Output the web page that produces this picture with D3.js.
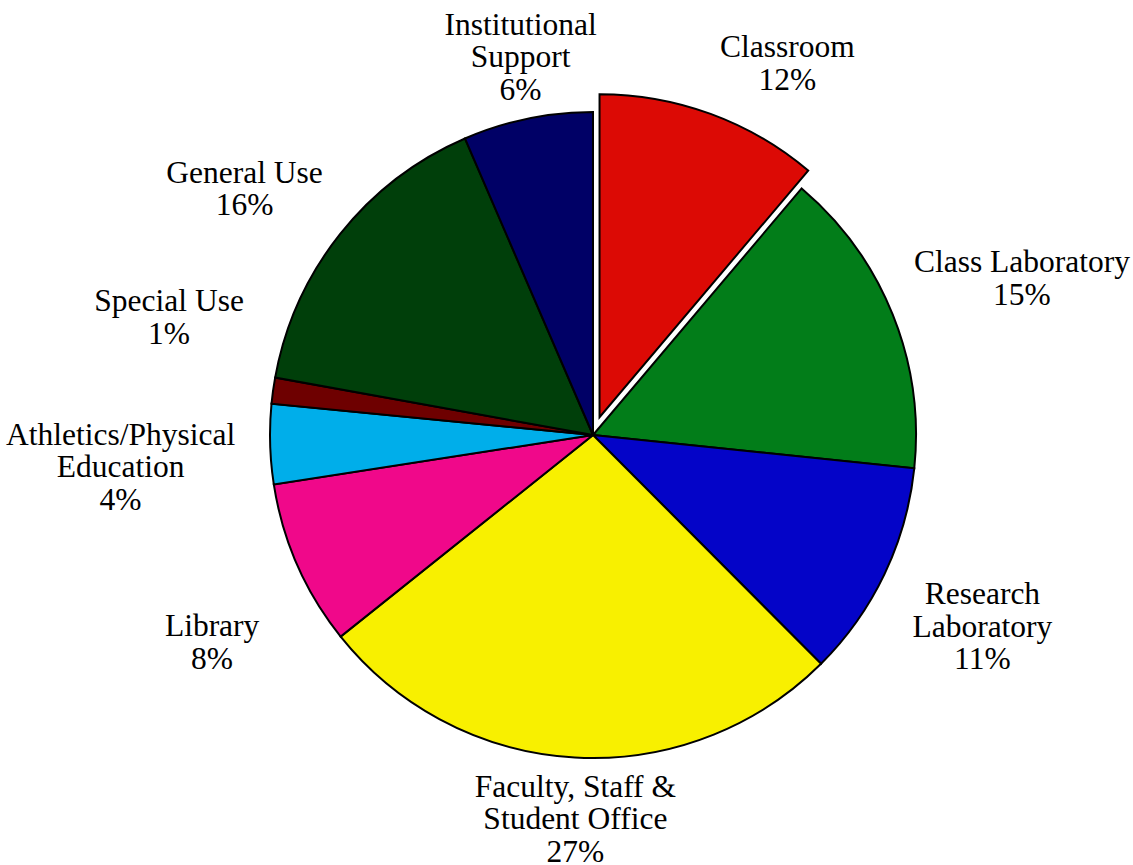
<!DOCTYPE html>
<html>
<head>
<meta charset="utf-8">
<script src="https://d3js.org/d3.v7.min.js"></script>
<style>
  html, body { margin: 0; padding: 0; background: #ffffff; }
  svg { display: block; }
  .lbl text { font-family: "Liberation Serif", "Times New Roman", Times, serif; }
</style>
</head>
<body>
<svg id="chart" width="1133" height="865"></svg>
<script>
// ---- data ----
const categories = [
  "Classroom", "Class Laboratory", "Research Laboratory",
  "Faculty, Staff & Student Office", "Library", "Athletics/Physical Education",
  "Special Use", "General Use", "Institutional Support"
];
const shares = [11.2, 15.5, 10.9, 26.8, 8.3, 4.0, 1.3, 15.7, 6.5];
const pctLabels = ["12%", "15%", "11%", "27%", "8%", "4%", "1%", "16%", "6%"];
const labelLines = [
  ["Classroom"],
  ["Class Laboratory"],
  ["Research", "Laboratory"],
  ["Faculty, Staff &", "Student Office"],
  ["Library"],
  ["Athletics/Physical", "Education"],
  ["Special Use"],
  ["General Use"],
  ["Institutional", "Support"]
];
const explodedIndex = 0;

// ---- styling / layout ----
const colors = ["#dc0a05", "#027d19", "#0404c8", "#f8f000", "#f0088a",
                "#00aeea", "#6e0000", "#003f0a", "#000066"];
const cx = 593, cy = 435, radius = 323, explode = 19;
const fontSize = 31.5, lineH = 32.5, labelGap = 13;
// small per-label nudges applied after the automatic placement
const nudges = [[49, -8], [17, -19], [23, 26], [7, 0], [-30, 59],
                [-22, 21], [-17, -67], [-24, -17], [11, -1]];

const svg = d3.select("#chart");
const g = svg.append("g").attr("transform", `translate(${cx},${cy})`);

const pie = d3.pie().sort(null).value(d => d.v);
const data = shares.map((v, i) => ({ v, i }));
const arcs = pie(data);
const arc = d3.arc().innerRadius(0).outerRadius(radius);

function offsetFor(d) {
  if (d.data.i !== explodedIndex) return [0, 0];
  const a = (d.startAngle + d.endAngle) / 2;
  return [Math.sin(a) * explode, -Math.cos(a) * explode];
}

g.selectAll("path.slice")
  .data(arcs)
  .join("path")
  .attr("class", "slice")
  .attr("d", arc)
  .attr("transform", d => { const o = offsetFor(d); return `translate(${o[0]},${o[1]})`; })
  .attr("fill", d => colors[d.data.i])
  .attr("stroke", "#000")
  .attr("stroke-width", 2)
  .attr("stroke-linejoin", "miter");

// labels
const lg = svg.append("g")
  .attr("class", "lbl")
  .attr("font-size", fontSize)
  .attr("fill", "#000");

arcs.forEach(d => {
  const i = d.data.i;
  const a = (d.startAngle + d.endAngle) / 2;
  const o = offsetFor(d);
  const rr = radius + labelGap;
  const px = cx + o[0] + Math.sin(a) * rr;
  const py = cy + o[1] - Math.cos(a) * rr;
  const lines = labelLines[i].concat([pctLabels[i]]);
  const t = lg.append("text").attr("text-anchor", "middle");
  lines.forEach((ln, k) => {
    t.append("tspan").attr("x", 0).attr("dy", k === 0 ? 0 : lineH).text(ln);
  });
  let w = 0;
  t.selectAll("tspan").each(function () { w = Math.max(w, this.getComputedTextLength()); });
  const h = lines.length * lineH;
  const bx = px + Math.sin(a) * w / 2 + nudges[i][0];
  const by = py - Math.cos(a) * h / 2 + nudges[i][1];
  const top = by - h / 2;
  t.attr("transform", `translate(${bx},${top + fontSize * 0.84})`);
});
</script>
</body>
</html>
